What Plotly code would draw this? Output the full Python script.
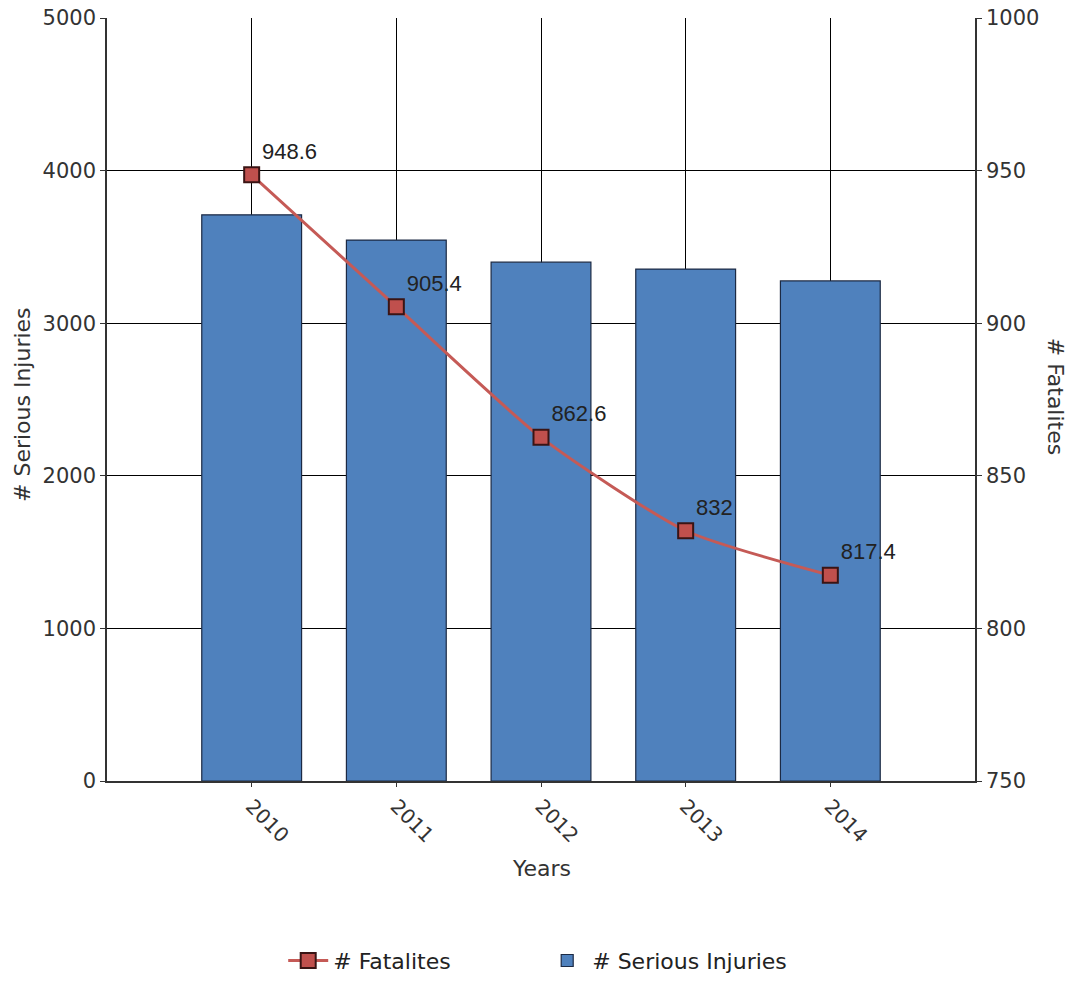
import plotly.graph_objects as go

years = [2010, 2011, 2012, 2013, 2014]
serious_injuries = [3710, 3545, 3400, 3355, 3277]
fatalities = [948.6, 905.4, 862.6, 832, 817.4]
fatality_labels = ["948.6", "905.4", "862.6", "832", "817.4"]

FONT = "DejaVu Sans, Verdana, sans-serif"
GREY = "#333333"

fig = go.Figure()
fig.add_trace(go.Bar(
    x=years, y=serious_injuries, name="# Serious Injuries",
    marker=dict(color="#4f81bd", line=dict(color="#1c2a44", width=1.2)),
    width=0.69, legendrank=2,
))
fig.add_trace(go.Scatter(
    x=years, y=fatalities, name="# Fatalites", yaxis="y2",
    mode="lines+markers+text",
    line=dict(color="#c55a56", width=3, shape="spline", smoothing=0.6),
    marker=dict(symbol="square", size=15, color="#c0504d", line=dict(color="#3a1414", width=2)),
    text=fatality_labels, textposition="top right",
    textfont=dict(family="Liberation Sans, Arial, sans-serif", size=22, color="#222222"),
    legendrank=1, cliponaxis=False,
))

fig.update_layout(
    width=1075, height=985,
    margin=dict(l=107, r=100, t=18, b=204, autoexpand=False),
    plot_bgcolor="white", paper_bgcolor="white",
    showlegend=True,
    legend=dict(orientation="h", x=0.203, xanchor="left", y=-0.208, yanchor="top",
                font=dict(family=FONT, size=22, color="#222222"),
                itemwidth=40, entrywidth=204),
    xaxis=dict(
        range=[2009, 2015], tickvals=years, ticktext=[str(y) for y in years],
        tickangle=45, showgrid=True, gridcolor="#000000", gridwidth=1,
        showline=True, linecolor=GREY, linewidth=1.5,
        ticks="outside", ticklen=4, tickcolor=GREY,
        tickfont=dict(family=FONT, size=20, color=GREY),
        zeroline=False, automargin=False,
    ),
    yaxis=dict(
        range=[0, 5000], dtick=1000, showgrid=True, gridcolor="#000000", gridwidth=1,
        showline=True, linecolor=GREY, linewidth=1.5,
        ticks="outside", ticklen=5, tickcolor=GREY,
        tickfont=dict(family=FONT, size=21, color=GREY),
        zeroline=False, automargin=False,
    ),
    yaxis2=dict(
        range=[750, 1000], dtick=50, overlaying="y", side="right", showgrid=False,
        showline=True, linecolor=GREY, linewidth=1.5,
        ticks="outside", ticklen=5, tickcolor=GREY,
        tickfont=dict(family=FONT, size=21, color=GREY),
        zeroline=False, automargin=False,
    ),
    annotations=[
        dict(text="# Serious Injuries", textangle=-90, xref="paper", yref="paper",
             x=-0.098, y=0.494, xanchor="center", yanchor="middle", showarrow=False,
             font=dict(family=FONT, size=22, color=GREY)),
        dict(text="# Fatalites", textangle=90, xref="paper", yref="paper",
             x=1.093, y=0.504, xanchor="center", yanchor="middle", showarrow=False,
             font=dict(family=FONT, size=22, color=GREY)),
        dict(text="Years", xref="paper", yref="paper",
             x=0.5, y=-0.115, xanchor="center", yanchor="middle", showarrow=False,
             font=dict(family=FONT, size=22, color=GREY)),
    ],
)

fig.write_html("out.html")
